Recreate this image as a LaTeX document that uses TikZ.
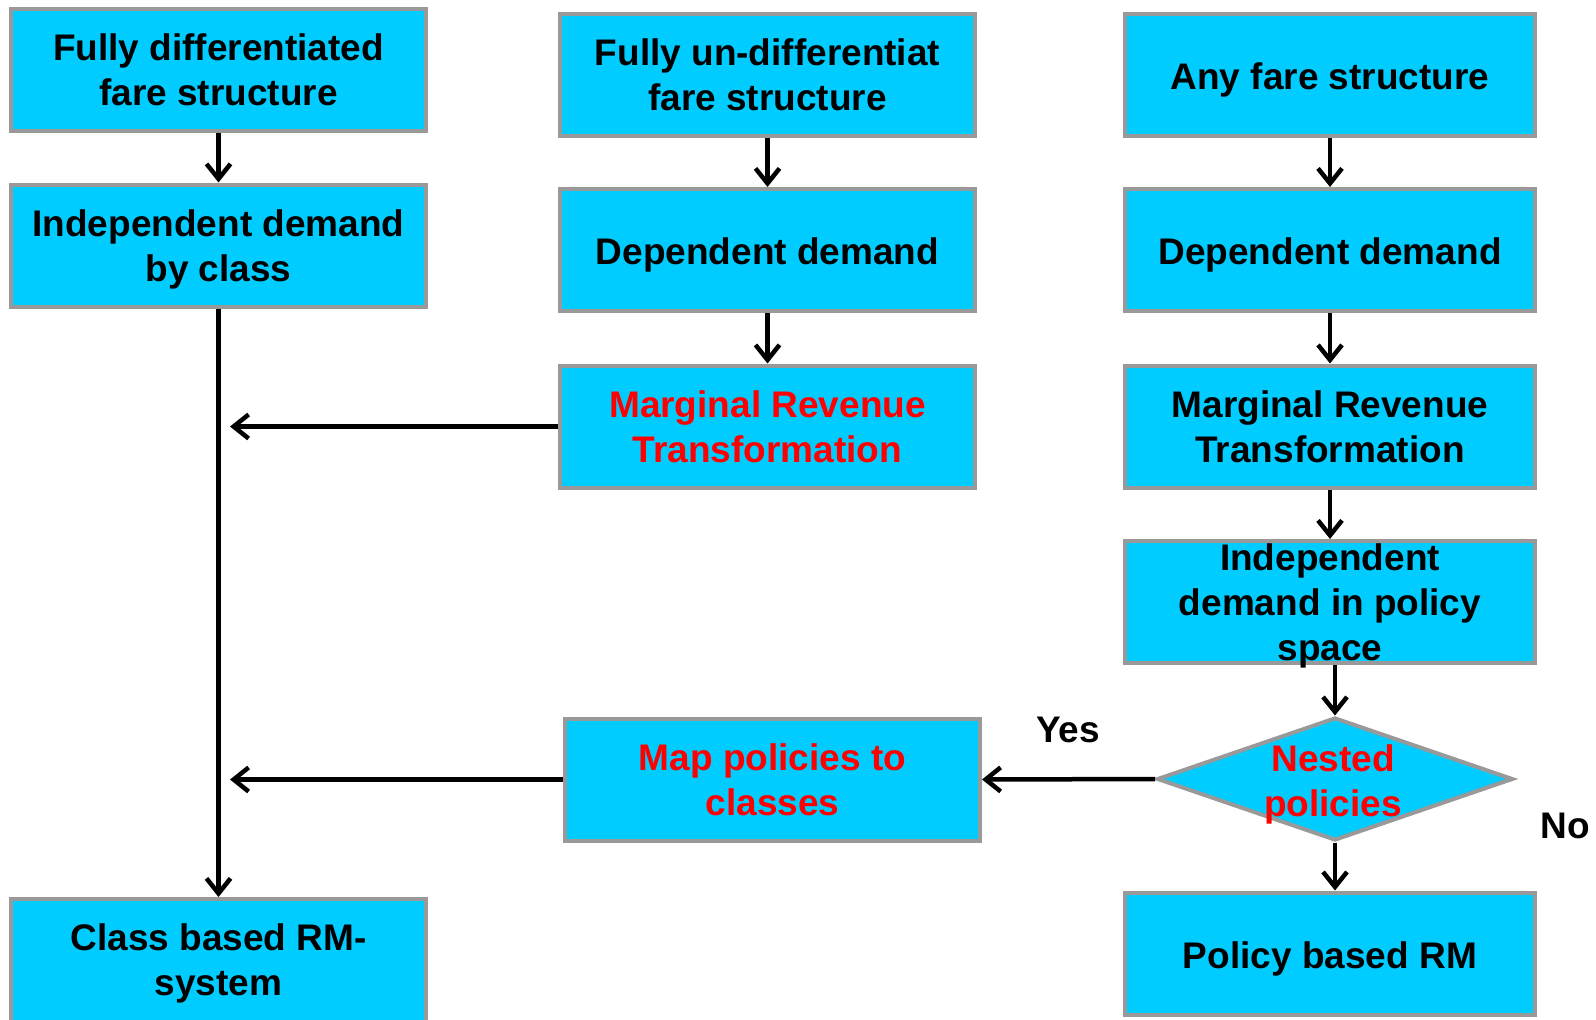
\documentclass[tikz,border=0pt]{standalone}
\usepackage{fontspec}
\setmainfont{Liberation Sans}
\usetikzlibrary{arrows.meta,shapes.geometric}
\definecolor{boxfill}{RGB}{0,204,255}
\definecolor{boxline}{RGB}{153,153,153}
\definecolor{hot}{RGB}{255,0,0}

\begin{document}
\begin{tikzpicture}[x=1pt,y=-1pt,
  stage/.style={rectangle, fill=boxfill, draw=boxline, line width=4pt,
    inner sep=0pt, align=center, minimum height=122pt, minimum width=#1,
    font=\bfseries\fontsize{37}{45}\selectfont},
  stage/.default=415pt,
  oneline/.style={text height=29pt, text depth=0pt},
  lowlast/.style={text depth=0pt},
  decision/.style={diamond, fill=boxfill, draw=boxline, line width=4pt,
    inner sep=0pt, minimum width=356pt, minimum height=123pt},
  caption/.style={align=center, inner sep=0pt,
    font=\bfseries\fontsize{37}{45}\selectfont},
  flow/.style={line width=4.5pt, draw=black,
    -{Straight Barb[length=15pt,width=24pt,line width=4.5pt]}}
]
% page
\fill[white] (0,0) rectangle (1596,1020);
\clip (0,0) rectangle (1596,1020);

% left column: class based path
\node[stage] (fdiff) at (218.5,70) {Fully differentiated\\fare structure};
\node[stage, lowlast] (indcls) at (218.5,245.5) {Independent demand\\by class};
\node[stage, minimum height=129pt] (classrm) at (218.5,963.5) {Class based RM-\\system};

% middle column
\node[stage] (fundiff) at (767.5,74.5) {Fully un-differentiat\\fare structure};
\node[stage, oneline] (depmid) at (767.5,250) {Dependent demand};
\node[stage, text=hot] (mrmid) at (767.5,426.5) {Marginal Revenue\\Transformation};
\node[stage, text=hot] (mapcls) at (772.5,779.5) {Map policies to\\classes};

% right column: policy based path
\node[stage=410pt, oneline] (anyfare) at (1330,74.5) {Any fare structure};
\node[stage=410pt, oneline] (depright) at (1330,250) {Dependent demand};
\node[stage=410pt] (mrright) at (1330,426.5) {Marginal Revenue\\Transformation};
\node[stage=410pt, lowlast] (indpol) at (1330,602) {Independent\\demand in policy\\space};
\node[decision] (nested) at (1335,779) {};
\node[caption, text=hot] (nestedtxt) at (1333,784) {Nested\\policies};
\node[stage=410pt, oneline] (polrm) at (1330,953.5) {Policy based RM};

% branch labels
\node[caption, anchor=base] (yes) at (1068,742) {Yes};
\node[caption, anchor=base] (no) at (1565,838) {No};

% junction points on the left trunk
\coordinate (joinmr) at (230,426.5);
\coordinate (joinmap) at (230,779.5);

% connectors
\draw[flow] (fdiff) -- (indcls);
\draw[flow] (indcls) -- (classrm);
\draw[flow] (fundiff) -- (depmid);
\draw[flow] (depmid) -- (mrmid);
\draw[flow] (mrmid.west) -- (joinmr);
\draw[flow] (mapcls.west) -- (joinmap);
\draw[flow] (anyfare) -- (depright);
\draw[flow] (depright) -- (mrright);
\draw[flow] (mrright) -- (indpol);
\draw[flow] (nested.north |- indpol.south) -- (nested.north);
\draw[flow] (nested.west) -- (mapcls.east);
\draw[flow] (nested.south) -- (nested.south |- polrm.north);
\end{tikzpicture}
\end{document}
